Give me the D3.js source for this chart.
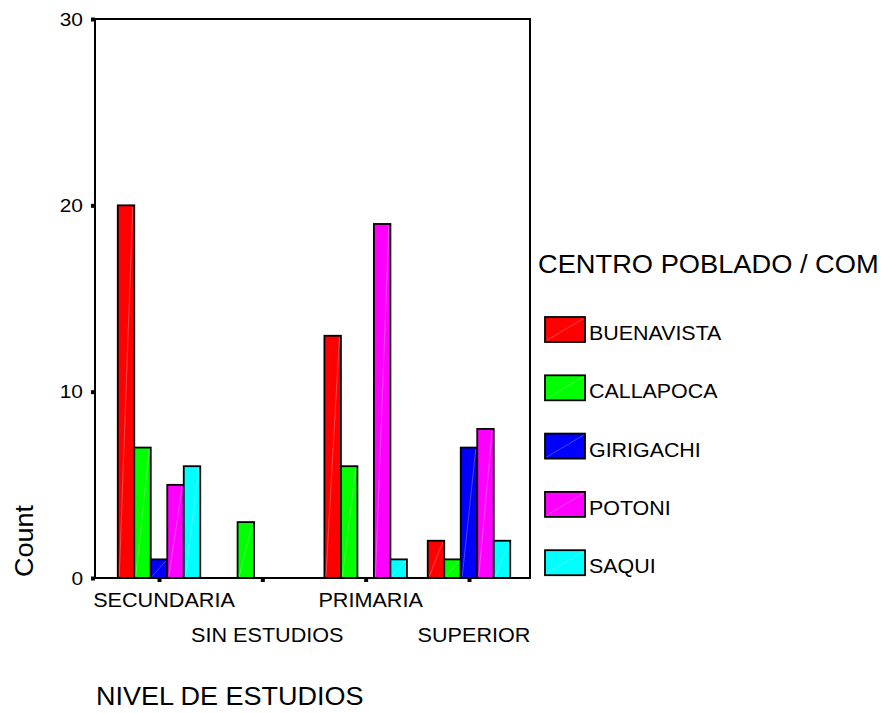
<!DOCTYPE html>
<html lang="en">
<head>
<meta charset="UTF-8">
<title>Nivel de estudios por centro poblado</title>
<style>
  body { margin: 0; background: #fff; }
  text { font-family: Arial, "Liberation Sans", sans-serif; fill: #000; }
</style>
</head>
<body>
<svg id="chart" width="884" height="713"></svg>
<script src="https://d3js.org/d3.v7.min.js"></script>
<script>
// data
const categories = ["SECUNDARIA", "SIN ESTUDIOS", "PRIMARIA", "SUPERIOR"];
const seriesNames = ["BUENAVISTA", "CALLAPOCA", "GIRIGACHI", "POTONI", "SAQUI"];
const buenavista = [20, 0, 13, 2];
const callapoca  = [7, 3, 6, 1];
const girigachi  = [1, 0, 0, 7];
const potoni     = [5, 0, 19, 8];
const saqui      = [6, 0, 1, 2];
const yTicks = [0, 10, 20, 30];
const colors = ["#ff0000", "#00ff00", "#0000ff", "#ff00ff", "#00ffff"];

const seriesValues = [buenavista, callapoca, girigachi, potoni, saqui];

const svg = d3.select("#chart");
const plotLeft = 95, plotRight = 530, plotTop = 19, plotBottom = 578;

// the original text is a little wider than Arial, stretch it a bit
function stretch(sel, f) {
  sel.each(function() {
    const len = this.getComputedTextLength();
    d3.select(this).attr("textLength", len * f).attr("lengthAdjust", "spacingAndGlyphs");
  });
}

const x = d3.scalePoint().domain(categories).range([plotLeft + 1.5, plotRight + 1.5]).padding(0.605);
const y = d3.scaleLinear().domain([0, 30]).range([plotBottom, plotTop]);

const barW = 16.5;
const slot = d3.scaleBand().domain(seriesNames).range([-barW * 2.5, barW * 2.5]);

// bars
const bars = [];
categories.forEach((c, i) => {
  seriesNames.forEach((s, j) => {
    const v = seriesValues[j][i];
    if (v > 0) bars.push({ cat: c, ser: s, v: v, color: colors[j] });
  });
});

const g = svg.append("g");
g.selectAll("rect.bar")
  .data(bars)
  .enter().append("rect")
  .attr("class", "bar")
  .attr("x", d => x(d.cat) + slot(d.ser))
  .attr("y", d => y(d.v))
  .attr("width", slot.bandwidth())
  .attr("height", d => y(0) - y(d.v))
  .attr("fill", d => d.color)
  .attr("stroke", "#000")
  .attr("stroke-width", 1.8);

// faint diagonal highlight
g.selectAll("line.diag")
  .data(bars)
  .enter().append("line")
  .attr("x1", d => x(d.cat) + slot(d.ser) + 1.5)
  .attr("y1", d => y(0) - 1.5)
  .attr("x2", d => x(d.cat) + slot(d.ser) + slot.bandwidth() - 1.5)
  .attr("y2", d => y(d.v) + 1.5)
  .attr("stroke", "#fff")
  .attr("stroke-opacity", 0.35)
  .attr("stroke-width", 0.8);

// frame
svg.append("rect")
  .attr("x", plotLeft).attr("y", plotTop)
  .attr("width", plotRight - plotLeft).attr("height", plotBottom - plotTop)
  .attr("fill", "none").attr("stroke", "#000").attr("stroke-width", 2);

// y axis
const yAxis = svg.append("g")
  .attr("transform", `translate(${plotLeft},0)`)
  .call(d3.axisLeft(y).tickValues(yTicks).tickSize(4).tickPadding(8));
yAxis.select(".domain").remove();
yAxis.selectAll(".tick line").attr("stroke", "#000").attr("stroke-width", 4);
yAxis.selectAll(".tick text").attr("font-size", 19)
  .style("font-family", "Arial, 'Liberation Sans', sans-serif");
stretch(yAxis.selectAll(".tick text"), 1.1);

// x axis ticks
const xAxis = svg.append("g")
  .attr("transform", `translate(0,${plotBottom})`)
  .call(d3.axisBottom(x).tickSize(4).tickFormat(""));
xAxis.select(".domain").remove();
xAxis.selectAll(".tick line").attr("stroke", "#000").attr("stroke-width", 4);

const catLabels = svg.selectAll("text.cat")
  .data(categories)
  .enter().append("text")
  .attr("class", "cat")
  .attr("x", d => x(d) + 5)
  .attr("y", (d, i) => i % 2 === 0 ? 607 : 642)
  .attr("text-anchor", "middle")
  .attr("font-size", 20)
  .text(d => d);
stretch(catLabels, 1.08);

// axis titles
const countLabel = svg.append("text")
  .attr("transform", "translate(33,541) rotate(-90)")
  .attr("text-anchor", "middle")
  .attr("font-size", 25)
  .text("Count");
stretch(countLabel, 1.08);

const xTitle = svg.append("text")
  .attr("x", 96).attr("y", 705)
  .attr("font-size", 25)
  .text("NIVEL DE ESTUDIOS");
stretch(xTitle, 1.08);

// legend
const legTitle = svg.append("text")
  .attr("x", 538).attr("y", 273)
  .attr("font-size", 25)
  .text("CENTRO POBLADO / COM");
stretch(legTitle, 1.09);

const legend = svg.selectAll("g.leg")
  .data(seriesNames)
  .enter().append("g")
  .attr("class", "leg")
  .attr("transform", (d, i) => `translate(545,${317 + i * 58.3})`);

legend.append("rect")
  .attr("width", 40).attr("height", 25)
  .attr("fill", (d, i) => colors[i])
  .attr("stroke", "#000").attr("stroke-width", 1.8);

legend.append("line")
  .attr("x1", 1.5).attr("y1", 23.5).attr("x2", 38.5).attr("y2", 1.5)
  .attr("stroke", "#fff").attr("stroke-opacity", 0.35).attr("stroke-width", 0.8);

const legLabels = legend.append("text")
  .attr("x", 44).attr("y", 23)
  .attr("font-size", 20)
  .text(d => d);
stretch(legLabels, 1.07);
</script>
</body>
</html>
